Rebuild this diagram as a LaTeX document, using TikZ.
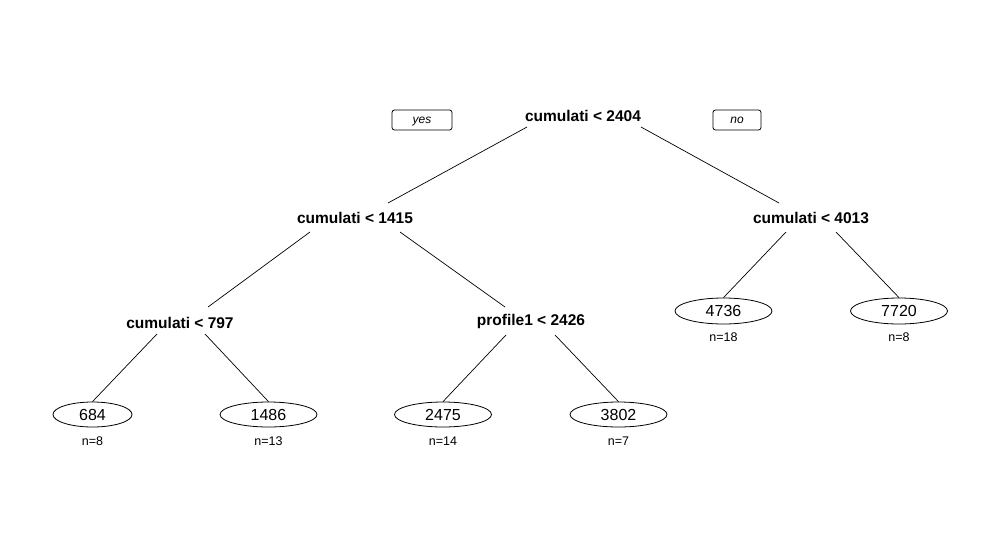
\documentclass[tikz,border=0pt]{standalone}
\usepackage{fontspec}
\setmainfont{Liberation Sans}
\usetikzlibrary{shapes.geometric}
\begin{document}
\begin{tikzpicture}[x=1pt,y=-1pt,
  split/.style={font=\fontsize{15.5}{16}\selectfont\bfseries, inner sep=0pt},
  leaf/.style={ellipse, draw, line width=0.8pt, inner sep=0pt, minimum width=97pt, minimum height=26pt, font=\fontsize{16}{17}\selectfont},
  count/.style={font=\fontsize{12.5}{13}\selectfont, inner sep=0pt},
  tag/.style={draw, rounded corners=2.5pt, line width=0.8pt, minimum height=20pt, inner sep=0pt, text height=6.2pt, text depth=0pt, font=\fontsize{12}{13}\selectfont\itshape},
  edge/.style={line width=0.7pt}]
\useasboundingbox (0,0) rectangle (1000,547);
% split nodes
\node[split] (root) at (583,116) {cumulati < 2404};
\node[split] (n1415) at (355,218) {cumulati < 1415};
\node[split] (n4013) at (811,218) {cumulati < 4013};
\node[split] (n797) at (180,323) {cumulati < 797};
\node[split] (n2426) at (531,321) {profile1 < 2426};
% yes / no tags
\node[tag, minimum width=60pt] (yes) at (422,120) {yes};
\node[tag, minimum width=48pt] (no) at (737,120) {no};
% leaves
\node[leaf, minimum width=79pt, minimum height=25pt] (l684) at (92.5,414.5) {684};
\node[leaf, minimum height=25pt] (l1486) at (268.5,414.5) {1486};
\node[leaf, minimum height=25pt] (l2475) at (443,414.5) {2475};
\node[leaf, minimum height=25pt] (l3802) at (618.5,414.5) {3802};
\node[leaf] (l4736) at (723.5,311) {4736};
\node[leaf] (l7720) at (899,311) {7720};
% counts
\node[count] (c684) at (92.5,441) {n=8};
\node[count] (c1486) at (268.5,441) {n=13};
\node[count] (c2475) at (443,441) {n=14};
\node[count] (c3802) at (618.5,441) {n=7};
\node[count] (c4736) at (723.5,337) {n=18};
\node[count] (c7720) at (899,337) {n=8};
% connectors
\draw[edge] ([shift={(-56,11)}]root.center) -- ([shift={(33,-15)}]n1415.center);
\draw[edge] ([shift={(58,11)}]root.center) -- ([shift={(-32,-15)}]n4013.center);
\draw[edge] ([shift={(-45,14)}]n1415.center) -- ([shift={(28,-16)}]n797.center);
\draw[edge] ([shift={(45,14)}]n1415.center) -- ([shift={(-26,-14)}]n2426.center);
\draw[edge] ([shift={(-25,14)}]n4013.center) -- (l4736.north);
\draw[edge] ([shift={(25,14)}]n4013.center) -- (l7720.north);
\draw[edge] ([shift={(-23,11)}]n797.center) -- (l684.north);
\draw[edge] ([shift={(25,11)}]n797.center) -- (l1486.north);
\draw[edge] ([shift={(-25,14)}]n2426.center) -- (l2475.north);
\draw[edge] ([shift={(24,14)}]n2426.center) -- (l3802.north);
\end{tikzpicture}
\end{document}
